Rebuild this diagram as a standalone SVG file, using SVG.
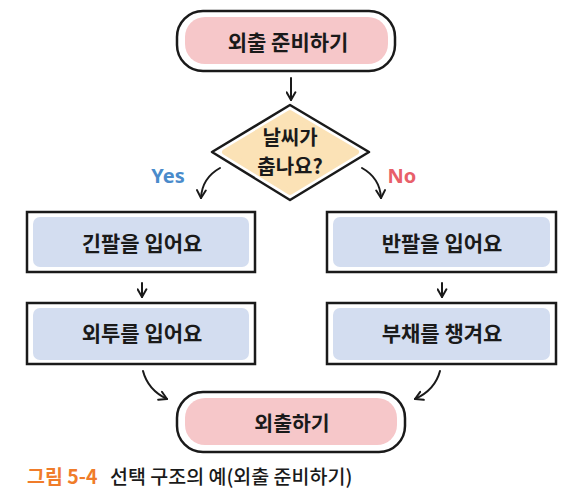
<svg xmlns="http://www.w3.org/2000/svg" width="565" height="496" viewBox="0 0 565 496">
<defs>
<marker id="ah" viewBox="0 0 10 10" refX="8" refY="5" markerWidth="11" markerHeight="11" markerUnits="userSpaceOnUse" orient="auto">
<path d="M1,1 L8,5 L1,9" fill="none" stroke="#1a1a1a" stroke-width="1.8" stroke-linecap="round" stroke-linejoin="round"/>
</marker>
<style>
.t{font-family:"Noto Sans CJK KR","Noto Sans",sans-serif;font-weight:700;fill:#1a1a1a;text-anchor:middle;dominant-baseline:central}
.term{fill:#fff;stroke:#1a1a1a;stroke-width:2.5}
.pink{fill:#f6c7c9}
.box{fill:#fff;stroke:#1a1a1a;stroke-width:2.5}
.blue{fill:#d3ddf0}
.c{fill:none;stroke:#1a1a1a;stroke-width:2;stroke-linecap:round;marker-end:url(#ah)}
.lbl{font-family:"Noto Sans","Noto Sans CJK KR",sans-serif;font-weight:700;font-size:20px;text-anchor:middle;dominant-baseline:central}
</style>
</defs>
<rect width="565" height="496" fill="#fff"/>
<g id="start">
<rect class="term" x="177" y="11" width="218" height="60" rx="26"/>
<rect class="pink" x="185" y="17" width="203" height="47" rx="20"/>
<text class="t" x="288" y="41" font-size="21">외출 준비하기</text>
</g>
<g id="decision">
<polygon points="290,105 369,152 290,200 212,152" fill="#fff" stroke="#1a1a1a" stroke-width="2.5" stroke-linejoin="round"/>
<polygon points="290,113 356,152 290,192 225,152" fill="#fbe2b6" stroke="#fbe2b6" stroke-width="6" stroke-linejoin="round"/>
<text class="t" x="290" y="136" font-size="20">날씨가</text>
<text class="t" x="290" y="165" font-size="20">춥나요?</text>
</g>
<g id="longsleeve">
<rect class="box" x="27" y="212" width="228" height="60"/>
<rect class="blue" x="33" y="217" width="216" height="50" rx="7"/>
<text class="t" x="142" y="242" font-size="21">긴팔을 입어요</text>
</g>
<g id="coat">
<rect class="box" x="27" y="303" width="228" height="61"/>
<rect class="blue" x="33" y="308" width="216" height="52" rx="7"/>
<text class="t" x="142" y="332" font-size="21">외투를 입어요</text>
</g>
<g id="shortsleeve">
<rect class="box" x="327" y="212" width="229" height="60"/>
<rect class="blue" x="333" y="217" width="217" height="50" rx="7"/>
<text class="t" x="442" y="242" font-size="21">반팔을 입어요</text>
</g>
<g id="fan">
<rect class="box" x="327" y="303" width="229" height="61"/>
<rect class="blue" x="333" y="308" width="217" height="52" rx="7"/>
<text class="t" x="442" y="332" font-size="21">부채를 챙겨요</text>
</g>
<g id="end">
<rect class="term" x="177" y="392" width="228" height="60" rx="26"/>
<rect class="pink" x="185" y="398" width="212" height="47" rx="20"/>
<text class="t" x="292" y="422" font-size="20.5">외출하기</text>
</g>
<g id="connectors">
<path class="c" d="M291,78 L291,100"/>
<path class="c" d="M220,168 Q202,178 201,198"/>
<path class="c" d="M362,168 Q380,178 381,198"/>
<path class="c" d="M142,283 L142,297"/>
<path class="c" d="M442,283 L442,297"/>
<path class="c" d="M143,371 Q148,390 167,399"/>
<path class="c" d="M440,371 Q435,390 415,399"/>
<text class="lbl" x="168" y="175" fill="#4a8bcb">Yes</text>
<text class="lbl" x="402" y="175" fill="#e8606a">No</text>
</g>
<g id="caption">
<text x="27" y="484" font-family="'Noto Sans CJK KR',sans-serif" font-weight="700" font-size="19.5" fill="#f07c2a">그림 5-4</text>
<text x="110" y="484" font-family="'Noto Sans CJK KR',sans-serif" font-weight="500" font-size="19.5" fill="#1a1a1a">선택 구조의 예(외출 준비하기)</text>
</g>
</svg>
